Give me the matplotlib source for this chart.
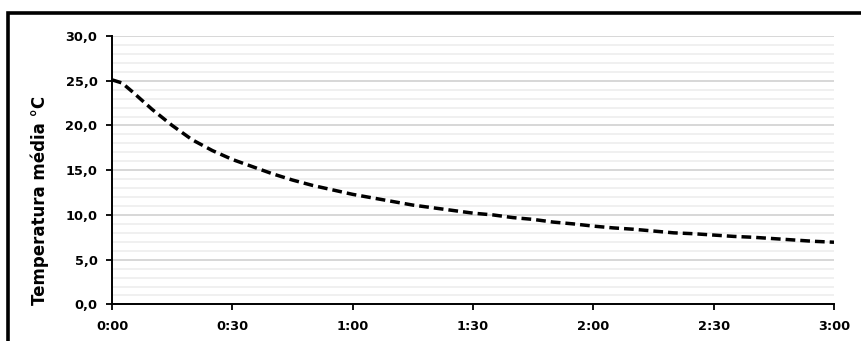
import matplotlib
matplotlib.use("Agg")
import matplotlib.pyplot as plt
from matplotlib.patches import Rectangle
from matplotlib.ticker import MultipleLocator

plt.rcParams['font.family'] = ['DejaVu Sans']
plt.rcParams['lines.scale_dashes'] = False

minutes = [0, 2.5, 5, 10, 15, 20, 25, 30, 35, 40, 45, 50, 55, 60, 65, 70, 75, 80, 85, 90,
           95, 100, 105, 110, 115, 120, 125, 130, 135, 140, 145, 150, 155, 160, 165,
           170, 175, 180]
temps = [25.1, 24.75, 23.8, 21.8, 20.0, 18.4, 17.2, 16.2, 15.4, 14.6, 13.9, 13.3, 12.8, 12.3,
         11.9, 11.5, 11.1, 10.8, 10.5, 10.2, 10.0, 9.7, 9.5, 9.2, 9.0, 8.75, 8.55, 8.4,
         8.2, 8.0, 7.9, 7.75, 7.6, 7.5, 7.35, 7.2, 7.05, 6.95]
xtick_pos = [0, 30, 60, 90, 120, 150, 180]
xtick_labels = ["0:00", "0:30", "1:00", "1:30", "2:00", "2:30", "3:00"]
ytick_pos = [0, 5, 10, 15, 20, 25, 30]
ytick_labels = ["0,0", "5,0", "10,0", "15,0", "20,0", "25,0", "30,0"]
ylabel = "Temperatura média °C"

fig = plt.figure(figsize=(8.61, 3.41), dpi=100)
ax = fig.add_axes([112/861, 1-304.4/341, (834-112)/861, (304.4-36)/341])

# outer frame (cropped at right and bottom)
fig.patches.append(Rectangle((8/861, -0.2), 1.5, 1.2 - 13/341, transform=fig.transFigure,
                             fill=False, edgecolor='black', linewidth=2.6, zorder=10))

ax.plot(minutes, temps, color='black', linewidth=2.5, linestyle=(0, (7, 3.6)), zorder=3)

ax.set_xlim(0, 180)
ax.set_ylim(0, 30)
ax.set_xticks(xtick_pos)
ax.set_xticklabels(xtick_labels, fontsize=9.3, fontweight='bold')
ax.set_yticks(ytick_pos)
ax.set_yticklabels(ytick_labels, fontsize=9.3, fontweight='bold')
ax.yaxis.set_minor_locator(MultipleLocator(1))
ax.tick_params(axis='y', which='minor', length=0)
ax.tick_params(axis='y', which='major', direction='out', length=4, width=1.3, pad=6.5)
ax.tick_params(axis='x', which='major', direction='out', length=4.5, width=1.3, pad=7)

ax.grid(axis='y', which='major', color='#d4d4d4', linewidth=1.3, zorder=0)
ax.grid(axis='y', which='minor', color='#eeeeee', linewidth=1.2, zorder=0)
ax.set_axisbelow(True)

for s in ['top', 'right']:
    ax.spines[s].set_visible(False)
for s in ['left', 'bottom']:
    ax.spines[s].set_linewidth(1.4)
    ax.spines[s].set_color('black')

ax.set_ylabel(ylabel, fontsize=12, fontweight='bold', va='center', ha='center')
ax.yaxis.set_label_coords(-0.0997, 0.389)

fig.savefig("out.png", dpi=100)
